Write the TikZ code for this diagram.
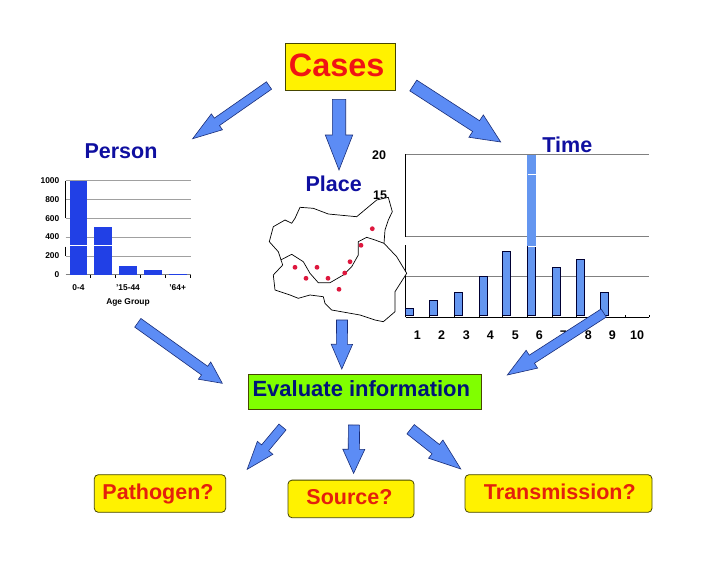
\documentclass[tikz,border=0pt]{standalone}
\usepackage{fontspec}
\setmainfont{Liberation Sans}
\usetikzlibrary{calc}
\definecolor{arrowfill}{RGB}{92,140,245}
\definecolor{arrowedge}{RGB}{25,45,120}
\definecolor{headblue}{RGB}{15,15,160}
\definecolor{evalblue}{RGB}{0,20,120}
\definecolor{askred}{RGB}{228,32,12}
\definecolor{casered}{RGB}{240,20,20}
\definecolor{boxedge}{RGB}{70,70,0}
\definecolor{evalgreen}{RGB}{128,255,0}
\definecolor{ageblue}{RGB}{33,64,230}
\definecolor{timebar}{RGB}{100,150,240}
\definecolor{pinkdot}{RGB}{222,24,62}
\definecolor{gridgrey}{RGB}{160,160,160}
\newcommand{\pxfont}[1]{\fontsize{#1}{#1}\selectfont\bfseries}
% tail, tip, half width of the shaft, length of the head, half width of the head
\newcommand{\blockarrow}[5]{%
  \draw[blockarrowstyle]
    ($(#1)!#3pt!90:(#2)$) --
    ($($(#2)!#4pt!(#1)$)!#3pt!90:(#2)$) --
    ($($(#2)!#4pt!(#1)$)!#5pt!90:(#2)$) --
    (#2) --
    ($($(#2)!#4pt!(#1)$)!#5pt!-90:(#2)$) --
    ($($(#2)!#4pt!(#1)$)!#3pt!-90:(#2)$) --
    ($(#1)!#3pt!-90:(#2)$) -- cycle;}
\tikzset{
  blockarrowstyle/.style={fill=arrowfill,draw=arrowedge,line width=0.6pt,line join=miter},
  heading/.style={font=\pxfont{21.5},text=headblue,anchor=base,inner sep=0pt},
  smalllabel/.style={font=\pxfont{8.4},text=black,inner sep=0pt},
  timelabel/.style={font=\pxfont{12.5},text=black,inner sep=0pt},
  askbox/.style={draw=boxedge,fill=yellow,rounded corners=4pt,line width=0.8pt,
     font=\pxfont{21.5},text=askred,inner sep=0pt,minimum height=37.6pt},
  gridline/.style={draw=gridgrey,line width=0.8pt},
  agebar/.style={fill=ageblue,draw=none},
  tbar/.style={fill=timebar,draw=none},
  mapline/.style={draw=black,line width=0.7pt,line join=round},
  dot/.style={circle,fill=pinkdot,inner sep=0pt,minimum size=4.8pt}
}
\begin{document}
\begin{tikzpicture}[x=1pt,y=-1pt]
\useasboundingbox (0,0) rectangle (728,563);
\fill[white] (0,0) rectangle (728,563);

% ---------- Person chart
\foreach \yy in {180.7,199.3,218.3,237,256}
  \draw[gridline] (65.7,\yy) -- (190.7,\yy);
\draw[gridline,draw=gray] (65.7,274.7) -- (190.7,274.7);
\draw[black,line width=0.7pt] (65.7,180.7) -- (65.7,218.3) (65.7,246.5) -- (65.7,256);
\foreach \xx in {90.7,115.3,140,165.7,190.3}
  \draw[black,line width=0.7pt] (\xx,274.7) -- (\xx,277.5);
\fill[agebar] (69.7,180.7) rectangle (87,274.7);
\fill[agebar] (94.3,227.3) rectangle (111.7,274.7);
\fill[agebar] (119.3,266) rectangle (136.7,274.7);
\fill[agebar] (144,270) rectangle (161.7,274.7);
\fill[agebar] (169,273.7) rectangle (186.7,274.7);
\draw[white,line width=0.6pt] (66,245.3) -- (111.7,245.3);
\foreach \val/\yy in {1000/180.7,800/199.3,600/218.3,400/237,200/256,0/274.7}
  \node[smalllabel,anchor=east] (age\val) at (59.5,\yy) {\val};
\node[smalllabel] (agea) at (78.5,287.3) {0-4};
\node[smalllabel] (ageb) at (128,287.3) {'15-44};
\node[smalllabel] (agec) at (177.7,287.3) {'64+};
\node[smalllabel] (agegroup) at (128,302.7) {Age Group};

% ---------- Time chart
\foreach \yy in {154.3,236.7,276.7}
  \draw[gridline,draw=gray] (405.7,\yy) -- (649,\yy);
\draw[black,line width=0.7pt] (405.7,317.3) -- (649,317.3);
\draw[black,line width=1.5pt] (405.7,154.3) -- (405.7,236.7);
\draw[black,line width=0.9pt] (405.7,245) -- (405.7,317.3);
\foreach \l/\r/\t in {405.7/413.3/308.3,429.3/437.7/300,454.3/462.3/292,479.3/487/276.7,502.7/510.7/251.7,527.7/535.7/155,552/560.3/267.7,576.3/584/259.7,600.7/608.7/292}{
  \fill[tbar] (\l,\t) rectangle (\r,315.5);
  \draw[black!80!blue,line width=1pt] (\l,315.5) -- (\r,315.5);
  \draw[black!80!blue,line width=0.6pt] (\l,315.5) -- (\l,\t) -- (\r,\t) -- (\r,315.5);
}
\fill[timebar] (527.3,155) rectangle (536,245.5);
\draw[white,line width=0.3pt] (527.7,174) -- (535.7,174) (527.7,245.7) -- (535.7,245.7);
\foreach \xx in {405.7,429.3,454.3,479.3,502.7,527.7,552,576.3,600.7,625.7,649}
  \draw[black,line width=0.7pt] (\xx,317.3) -- (\xx,315);
\foreach \n/\xx in {1/417.3,2/441.7,3/466.3,4/490.3,5/515.3,6/539.3,7/563.3,8/588.3,9/612.3,10/637}
  \node[timelabel] (tick\n) at (\xx,335) {\n};
\node[timelabel] (tl20) at (379,155) {20};
\node[timelabel] (tl15) at (380,195.5) {15};

% ---------- Map
\draw[mapline,fill=white]
  (300,207.3) -- (313.3,208.3) -- (328.3,214) -- (356.7,216.7) -- (366.7,208.3) --
  (376.7,200) -- (388.3,197.3) -- (392.3,211.7) -- (388.3,220) -- (385,230) --
  (384,243.3) -- (396.7,256.7) -- (406.7,273.3) -- (395,291.7) -- (395,311.7) --
  (383.3,321.7) -- (375,320) -- (360,315) -- (331.7,310) -- (325,303.3) --
  (323.3,296.7) -- (310,295) -- (298.3,298.3) -- (290,295) -- (275,290) --
  (273.3,275) -- (282.7,265) -- (278.3,251.7) -- (269.3,241.7) -- (273.3,226.7) --
  (285,220) -- (291.7,223.3) -- (295,218.3) -- cycle;
\draw[mapline]
  (280.7,260) -- (291.7,254.3) -- (303.3,261.7) -- (310,273.3) -- (318.3,282.7) --
  (330,282.7) -- (343.3,275) -- (351.7,266.7) -- (358.3,255) -- (358.3,241.7) --
  (366.7,237.3) -- (375,240) -- (384,243.3);
\foreach \n/\xx/\yy in {a/372.3/228.7,b/361/245.3,c/350/261.7,d/344.7/273,e/328/278.3,f/339/289.3,g/317/267.3,h/306/278.3,i/295/267.3}
  \node[dot] (dot\n) at (\xx,\yy) {};

% ---------- Headings
\node[heading] (person) at (121,158) {Person};
\node[heading] (place) at (333.7,191) {Place};
\node[heading] (time) at (567.3,152.5) {Time};

% ---------- Boxes
\node[draw=boxedge,fill=yellow,line width=0.8pt,minimum width=110.4pt,minimum height=47pt,
      inner sep=0pt,font=\pxfont{32.4},text=casered,text height=23pt,text depth=4.6pt]
      (cases) at (340.5,66.8) {Cases\hspace*{7.6pt}};
\node[draw=boxedge,fill=evalgreen,line width=0.8pt,minimum width=232.8pt,minimum height=34.6pt,
      inner sep=0pt,font=\pxfont{22},text=evalblue,text height=15pt,text depth=7pt]
      (evaluate) at (364.5,392) {Evaluate information\hspace*{6.4pt}};
\node[askbox,minimum width=131.4pt,text height=16pt,text depth=5pt] (pathogen) at (160,493.5) {Pathogen?\hspace*{4pt}};
\node[askbox,minimum width=126pt,text height=16pt,text depth=5.8pt] (source) at (351,498.9) {Source?\hspace*{3pt}};
\node[askbox,minimum width=187pt,text height=16pt,text depth=5pt] (transmission) at (558.5,493.5) {\hspace*{2.6pt}Transmission?};

% ---------- Block arrows
\coordinate (a1s) at (269,85.5);    \coordinate (a1e) at (192.7,138.7);
\coordinate (a2s) at (339,99.3);    \coordinate (a2e) at (339,170);
\coordinate (a3s) at (413.3,85.5);  \coordinate (a3e) at (500.7,142);
\coordinate (a4s) at (342,320);     \coordinate (a4e) at (341.8,369);
\coordinate (a5s) at (603.7,313);   \coordinate (a5e) at (507.3,375);
\coordinate (a6s) at (137.8,322.8); \coordinate (a6e) at (222.3,383.3);
\coordinate (a7s) at (282.5,427);   \coordinate (a7e) at (247.2,469.3);
\coordinate (a8s) at (354,425);     \coordinate (a8e) at (353.6,473.3);
\coordinate (a9s) at (410.6,429.2); \coordinate (a9e) at (460.8,469);
\blockarrow{a1s}{a1e}{4.5}{29.5}{9.7}
\blockarrow{a2s}{a2e}{6.7}{35}{13.7}
\blockarrow{a3s}{a3e}{6.4}{29.3}{13.3}
\blockarrow{a4s}{a4e}{5.5}{24.7}{10.7}
\blockarrow{a5s}{a5e}{4.8}{29.2}{10.6}
\blockarrow{a6s}{a6e}{5.3}{21.8}{10.6}
\blockarrow{a7s}{a7e}{4.6}{28}{10.1}
\blockarrow{a8s}{a8e}{5.6}{24}{11}
\blockarrow{a9s}{a9e}{5.9}{32}{11.6}
\end{tikzpicture}
\end{document}
